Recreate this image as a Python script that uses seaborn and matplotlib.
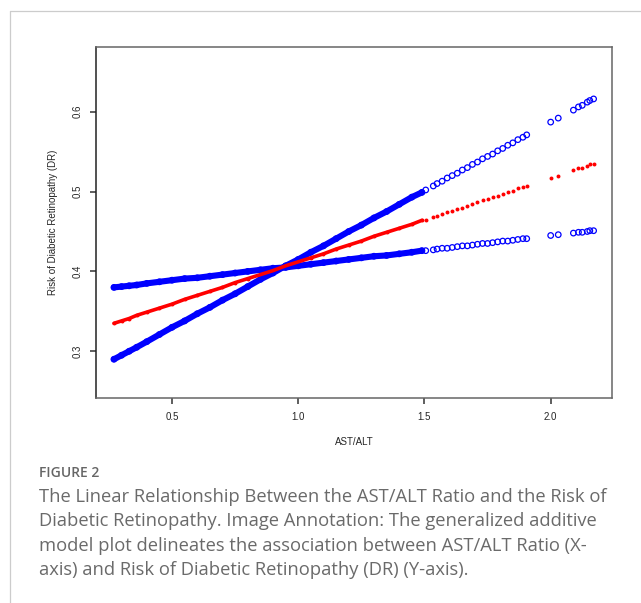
import pandas as pd
import matplotlib.pyplot as plt
from matplotlib.lines import Line2D
import seaborn as sns

# -----------------------------
# Data
# -----------------------------
ratio = [0.27, 0.30, 0.33, 0.36, 0.40, 0.45, 0.50, 0.55, 0.60, 0.65,
         0.70, 0.75, 0.80, 0.85, 0.90, 0.95, 1.00, 1.05, 1.10, 1.15,
         1.20, 1.25, 1.30, 1.35, 1.40, 1.45, 1.49, 1.505,
         1.535, 1.55, 1.57, 1.59, 1.61, 1.63, 1.65, 1.67, 1.69, 1.71,
         1.73, 1.75, 1.77, 1.79, 1.81, 1.83, 1.85, 1.87, 1.89, 1.905,
         2.00, 2.03, 2.09, 2.11, 2.125, 2.145, 2.155, 2.17]

risk_fit = [0.335, 0.338, 0.341, 0.345, 0.349, 0.354, 0.359, 0.365, 0.370, 0.375,
            0.380, 0.386, 0.391, 0.396, 0.401, 0.407, 0.412, 0.417, 0.422, 0.428,
            0.433, 0.438, 0.444, 0.449, 0.454, 0.459, 0.464, 0.465,
            0.468, 0.470, 0.472, 0.474, 0.476, 0.478, 0.480, 0.482, 0.485, 0.487,
            0.489, 0.491, 0.493, 0.495, 0.497, 0.499, 0.501, 0.504, 0.506, 0.507,
            0.517, 0.520, 0.527, 0.529, 0.530, 0.532, 0.534, 0.535]

# confidence band: the flat edge (top on the left, bottom on the right)
band_flat = [0.380, 0.381, 0.382, 0.383, 0.385, 0.387, 0.389, 0.391, 0.392, 0.394,
             0.396, 0.398, 0.400, 0.402, 0.404, 0.405, 0.407, 0.409, 0.411, 0.413,
             0.415, 0.417, 0.419, 0.420, 0.422, 0.424, 0.426, 0.426,
             0.427, 0.428, 0.429, 0.429, 0.430, 0.431, 0.432, 0.432, 0.433, 0.434,
             0.435, 0.435, 0.436, 0.437, 0.438, 0.438, 0.439, 0.440, 0.441, 0.441,
             0.445, 0.446, 0.448, 0.449, 0.449, 0.450, 0.451, 0.451]

# confidence band: the steep edge (bottom on the left, top on the right)
band_steep = [0.290, 0.295, 0.300, 0.305, 0.312, 0.321, 0.330, 0.338, 0.347, 0.355,
              0.364, 0.372, 0.381, 0.390, 0.398, 0.407, 0.415, 0.424, 0.432, 0.441,
              0.450, 0.458, 0.467, 0.475, 0.484, 0.493, 0.499, 0.502,
              0.507, 0.510, 0.513, 0.517, 0.520, 0.523, 0.527, 0.530, 0.534, 0.537,
              0.541, 0.544, 0.547, 0.551, 0.554, 0.558, 0.561, 0.565, 0.568, 0.571,
              0.587, 0.592, 0.602, 0.606, 0.608, 0.612, 0.614, 0.616]

x_ticks = [0.5, 1.0, 1.5, 2.0]
y_ticks = [0.3, 0.4, 0.5, 0.6]

caption_head = "FIGURE 2"
caption_body = ("The Linear Relationship Between the AST/ALT Ratio and the Risk of\n"
                "Diabetic Retinopathy. Image Annotation: The generalized additive\n"
                "model plot delineates the association between AST/ALT Ratio (X-\n"
                "axis) and Risk of Diabetic Retinopathy (DR) (Y-axis).")

df = pd.DataFrame({"ratio": ratio, "fit": risk_fit,
                   "flat": band_flat, "steep": band_steep})
dense = df[df["ratio"] < 1.5]

# -----------------------------
# Plot
# -----------------------------
sns.set_style("white")
plt.rcParams['font.family'] = ['Liberation Sans', 'DejaVu Sans']

fig = plt.figure(figsize=(6.41, 6.03), dpi=100)
ax = fig.add_axes([0.1498, 0.340, 0.805, 0.582])

blue = "#0000ff"
red = "#ff0000"

# thick bands where the data are dense
for col, c, lw in [("flat", blue, 4.4), ("steep", blue, 4.4), ("fit", red, 2.6)]:
    sns.lineplot(data=dense, x="ratio", y=col, color=c, linewidth=lw,
                 ax=ax, sort=True, solid_capstyle="round")

# individual points
for col in ["flat", "steep"]:
    sns.scatterplot(data=df, x="ratio", y=col, ax=ax, marker="o", s=16,
                    facecolor="none", edgecolor=blue, linewidth=0.9)
sns.scatterplot(data=df, x="ratio", y="fit", ax=ax, marker="o", s=8,
                color=red, edgecolor=red, linewidth=0)

ax.set_xlim(0.199, 2.243)
ax.set_ylim(0.2415, 0.681)
ax.set_xticks(x_ticks)
ax.set_xticklabels([f"{t:.1f}" for t in x_ticks], fontsize=7)
ax.set_yticks(y_ticks)
ax.set_yticklabels([f"{t:.1f}" for t in y_ticks], fontsize=7, rotation=90,
                   va="center")
ax.tick_params(axis="both", direction="out", length=4, width=1.1,
               color="#333333", pad=6, left=True, bottom=True)
ax.set_xlabel("AST/ALT", fontsize=7, labelpad=11)
ax.set_ylabel("Risk of Diabetic Retinopathy (DR)", fontsize=7, labelpad=10)
for side in ["left", "right", "top", "bottom"]:
    ax.spines[side].set_visible(True)
    ax.spines[side].set_color("#666666")
    ax.spines[side].set_linewidth(1.1)
ax.spines["left"].set_color("#222222")

# card border
fig.add_artist(Line2D([10 / 641, 10 / 641], [0, 1 - 11 / 603],
                      transform=fig.transFigure, color="#cccccc", lw=0.9))
fig.add_artist(Line2D([10 / 641, 1], [1 - 11 / 603, 1 - 11 / 603],
                      transform=fig.transFigure, color="#cccccc", lw=0.9))

# caption
fig.text(39 / 641, 1 - 473 / 603, caption_head, fontsize=10, color="#666666",
         family=["Open Sans", "DejaVu Sans"], fontweight="semibold", va="center")
fig.text(39 / 641, 1 - 488 / 603, caption_body, fontsize=13.2, color="#6a6a6a",
         family=["Open Sans", "DejaVu Sans"], va="top", linespacing=1.46)

plt.savefig("out.png", dpi=100)
